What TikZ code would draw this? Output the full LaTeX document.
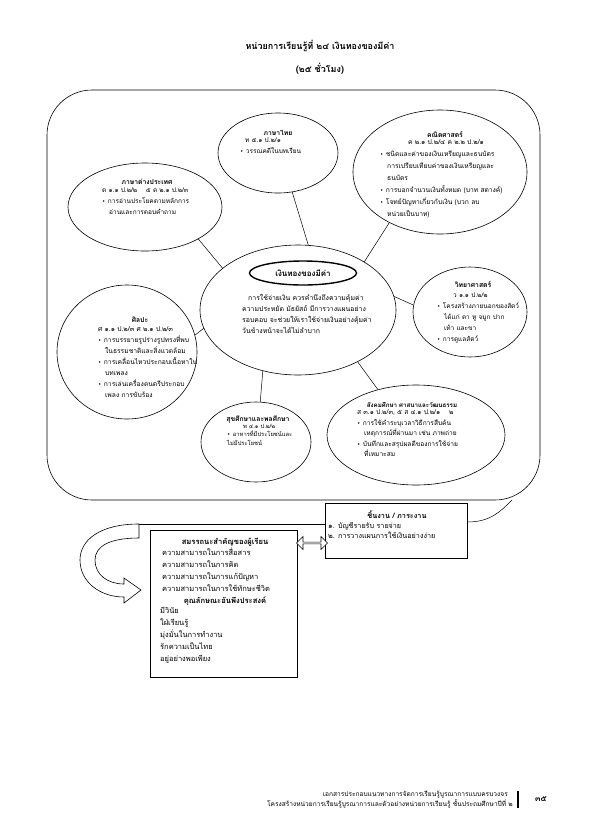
\documentclass[tikz,border=0pt]{standalone}
\usepackage{fontspec}
\setmainfont[Script=Thai]{Loma}
\newfontfamily\bulfont{DejaVu Sans}
\usetikzlibrary{shapes.geometric,shapes.arrows}
\newcommand\bul{{\bulfont\fontsize{5.5}{6}\selectfont •}\hspace{2.5pt}}
\newcommand\ind{\hspace*{7pt}}
\begin{document}
\begin{tikzpicture}[x=1pt,y=-1pt,
  ell/.style={draw, ellipse, line width=0.6pt, inner sep=0pt},
  blk/.style={align=left, inner sep=0pt, anchor=north west, font=\fontsize{6.5}{11}\selectfont},
  hd/.style={inner sep=0pt, font=\bfseries\fontsize{6.8}{8}\selectfont},
  conn/.style={line width=0.5pt},
  boxs/.style={draw, line width=0.6pt, inner sep=0pt}]
\useasboundingbox (0,0) rectangle (595,836);
\fill[white] (0,0) rectangle (595,836);

% title
\node[font=\bfseries\fontsize{9}{11}\selectfont, inner sep=0pt] (t1) at (320,46) {หน่วยการเรียนรู้ที่ ๒๔ เงินทองของมีค่า};
\node[font=\bfseries\fontsize{9}{11}\selectfont, inner sep=0pt] (t2) at (320,69) {(๒๕ ชั่วโมง)};

% frame
\node[draw, line width=0.6pt, rounded corners=45pt, minimum width=493pt, minimum height=410pt, inner sep=0pt] (frame) at (293.5,295) {};

% ellipses
\node[ell, minimum width=120pt, minimum height=80pt] (thaiE) at (278,153) {};
\node[ell, minimum width=174pt, minimum height=124pt] (mathE) at (440,172) {};
\node[ell, minimum width=154pt, minimum height=88pt] (forE) at (145,207) {};
\node[ell, minimum width=196pt, minimum height=130pt] (cenE) at (298,310) {};
\node[ell, minimum width=114pt, minimum height=90pt] (sciE) at (470,312) {};
\node[ell, minimum width=140pt, minimum height=134pt] (artE) at (127,352) {};
\node[ell, minimum width=110pt, minimum height=80pt] (pheE) at (256,442) {};
\node[ell, minimum width=178pt, minimum height=100pt] (socE) at (416,435) {};

% connectors
\draw[conn] (thaiE.-70) -- (cenE.81);
\draw[conn] (mathE.225) -- (cenE.36);
\draw[conn] (forE.-31) -- (cenE.151);
\draw[conn] (sciE.173) -- (cenE.8);
\draw[conn] (artE.14) -- (cenE.191);
\draw[conn] (pheE.84) -- (cenE.240);
\draw[conn] (socE.130) -- (cenE.-41);

% center
\node[draw, ellipse, line width=1.4pt, minimum width=107pt, minimum height=24pt, inner sep=0pt, font=\bfseries\fontsize{8}{9}\selectfont] (cenT) at (303,273) {เงินทองของมีค่า};
\node[blk, font=\fontsize{6.9}{11}\selectfont] (cenP) at (242,294) {\hspace*{6pt}การใช้จ่ายเงิน ควรคำนึงถึงความคุ้มค่า\\ความประหยัด มัธยัสถ์ มีการวางแผนอย่าง\\รอบคอบ จะช่วยให้เราใช้จ่ายเงินอย่างคุ้มค่า\\วันข้างหน้าจะได้ไม่ลำบาก};

% thai
\node[hd] (thaiH) at (278,133) {ภาษาไทย};
\node[blk] (thaiB) at (240,138) {\hspace*{5pt}ท ๕.๑ ป.๒/๑\\\bul วรรณคดีในบทเรียน};

% math
\node[hd] (mathH) at (445,135) {คณิตศาสตร์};
\node[blk, font=\fontsize{6.7}{12}\selectfont] (mathB) at (380,139) {\hspace*{28pt}ค ๒.๑ ป.๒/๔ ค ๒.๒ ป.๒/๑\\\bul ชนิดและค่าของเงินเหรียญและธนบัตร\\\ind การเปรียบเทียบค่าของเงินเหรียญและ\\\ind ธนบัตร\\\bul การบอกจำนวนเงินทั้งหมด (บาท สตางค์)\\\bul โจทย์ปัญหาเกี่ยวกับเงิน (บวก ลบ\\\ind หน่วยเป็นบาท)};

% foreign
\node[hd] (forH) at (147,182) {ภาษาต่างประเทศ};
\node[blk] (forB) at (102,188) {ต ๑.๑ ป.๒/๒ \quad ๕ ต ๒.๑ ป.๒/๓\\\bul การอ่านประโยคตามหลักการ\\\ind อ่านและการตอบคำถาม};

% science
\node[hd] (sciH) at (473,285) {วิทยาศาสตร์};
\node[blk] (sciB) at (437,293) {\hspace*{16pt}ว ๑.๑ ป.๒/๒\\\bul โครงสร้างภายนอกของสัตว์\\\ind ได้แก่ ตา หู จมูก ปาก\\\ind เท้า และขา\\\bul การดูแลสัตว์};

% art
\node[hd] (artH) at (140,320) {ศิลปะ};
\node[blk, font=\fontsize{6.7}{11}\selectfont] (artB) at (98,326) {ศ ๑.๑ ป.๒/๓ ศ ๒.๑ ป.๒/๓\\\bul การบรรยายรูปร่างรูปทรงที่พบ\\\ind ในธรรมชาติและสิ่งแวดล้อม\\\bul การเคลื่อนไหวประกอบเนื้อหาใน\\\ind บทเพลง\\\bul การเล่นเครื่องดนตรีประกอบ\\\ind เพลง การขับร้อง};

% health
\node[hd] (pheH) at (258,420) {สุขศึกษาและพลศึกษา};
\node[blk, font=\fontsize{5.8}{8.5}\selectfont] (pheB) at (227,424) {\hspace*{16pt}พ ๔.๑ ป.๒/๒\\\bul อาหารที่มีประโยชน์และ\\ไม่มีประโยชน์};

% social
\node[hd, font=\bfseries\fontsize{6.2}{8}\selectfont] (socH) at (412,405) {สังคมศึกษา ศาสนาและวัฒนธรรม};
\node[blk, font=\fontsize{6.6}{10.5}\selectfont] (socB) at (357,410) {ส ๓.๑ ป.๒/๓, ๕ ส ๔.๑ ป.๒/๑ \quad ๒\\\bul การใช้คำระบุเวลาวิธีการสืบค้น\\\ind เหตุการณ์ที่ผ่านมา เช่น ภาพถ่าย\\\bul บันทึกและสรุปผลดีของการใช้จ่าย\\\ind ที่เหมาะสม};

% bottom boxes
\node[boxs, minimum width=142pt, minimum height=55pt] (job) at (396,530.5) {};
\node[hd, font=\bfseries\fontsize{7.3}{8}\selectfont] (jobH) at (397,515) {ชิ้นงาน / ภาระงาน};
\node[blk, font=\fontsize{7.2}{10}\selectfont] (jobB) at (328,522) {๑. บัญชีรายรับ รายจ่าย\\๒. การวางแผนการใช้เงินอย่างง่าย};

\node[boxs, minimum width=147pt, minimum height=147pt] (comp) at (223.5,603.5) {};
\node[hd, font=\bfseries\fontsize{7.6}{9}\selectfont] (compH) at (225,542) {สมรรถนะสำคัญของผู้เรียน};
\node[blk, font=\fontsize{7.5}{11.8}\selectfont] (compB) at (162,548) {ความสามารถในการสื่อสาร\\ความสามารถในการคิด\\ความสามารถในการแก้ปัญหา\\ความสามารถในการใช้ทักษะชีวิต};
\node[hd, font=\bfseries\fontsize{7.6}{9}\selectfont] (charH) at (225,601) {คุณลักษณะอันพึงประสงค์};
\node[blk, font=\fontsize{7.5}{12}\selectfont] (charB) at (160,607) {มีวินัย\\ใฝ่เรียนรู้\\มุ่งมั่นในการทำงาน\\รักความเป็นไทย\\อยู่อย่างพอเพียง};

% double arrow between boxes
\node[double arrow, draw, line width=0.6pt, fill=white, minimum height=31pt, minimum width=13pt, double arrow head extend=2pt, inner sep=0pt] (darr) at (312,543) {};

% curve job -> frame
\coordinate (fr1) at (512,500);
\draw[conn] (job.east |- 0,522) .. controls (490,522) and (500,512) .. (fr1);

% left curved arrow and its link line
\coordinate (tailT) at (139,524);
\coordinate (tailB) at (139,538);
\draw[conn] (job.west |- tailT) -- (tailT);
\draw[line width=0.6pt, fill=white] (tailT) .. controls (100,524) and (80,540) .. (80,560)
  .. controls (80,582) and (100,597) .. (124,597) -- (124,603) -- (141,590) -- (124,578) -- (124,584)
  .. controls (108,584) and (95,575) .. (95,560) .. controls (95,546) and (110,538) .. (tailB) -- cycle;

% footer
\node[anchor=base east, inner sep=0pt, font=\fontsize{6.6}{9}\selectfont] (foot1) at (508,796) {เอกสารประกอบแนวทางการจัดการเรียนรู้บูรณาการแบบครบวงจร};
\node[anchor=base east, inner sep=0pt, font=\fontsize{6.6}{9}\selectfont] (foot2) at (513,806) {โครงสร้างหน่วยการเรียนรู้บูรณาการและตัวอย่างหน่วยการเรียนรู้ ชั้นประถมศึกษาปีที่ ๒};
\coordinate (barT) at (518,791);
\coordinate (barB) at (518,808);
\draw[line width=1.4pt] (barT) -- (barB);
\node[font=\bfseries\fontsize{8}{9}\selectfont, inner sep=0pt] (pg) at (541,799) {๓๕};
\end{tikzpicture}
\end{document}
